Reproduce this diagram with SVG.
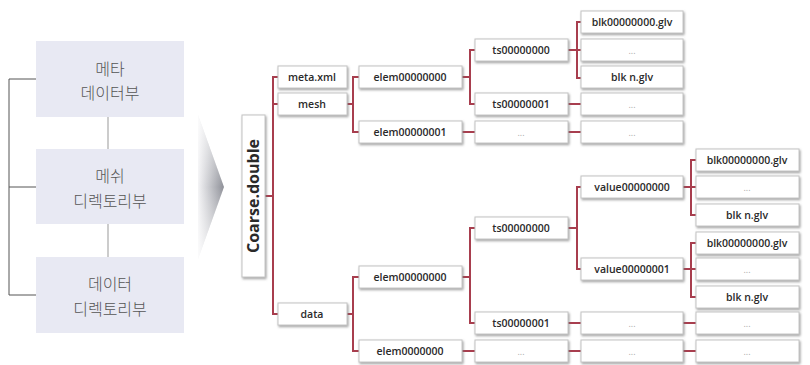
<svg xmlns="http://www.w3.org/2000/svg" width="810" height="365" viewBox="0 0 810 365">
<defs>
<linearGradient id="chev" x1="0" y1="0" x2="1" y2="0">
<stop offset="0" stop-color="#f4f4f6"/>
<stop offset="1" stop-color="#8e9098"/>
</linearGradient>
<linearGradient id="chevv" x1="0" y1="0" x2="0" y2="1">
<stop offset="0" stop-color="#ffffff" stop-opacity="0.7"/>
<stop offset="0.5" stop-color="#ffffff" stop-opacity="0"/>
<stop offset="1" stop-color="#ffffff" stop-opacity="0.7"/>
</linearGradient>
<filter id="sh" x="-10%" y="-20%" width="130%" height="160%">
<feDropShadow dx="1" dy="1.5" stdDeviation="0.8" flood-color="#777" flood-opacity="0.7"/>
</filter>
</defs>
<style>
.sec rect{fill:#e8e9f3}
.kt{font-family:"Noto Sans CJK KR","Noto Sans",sans-serif;font-size:16px;fill:#555;text-anchor:middle;font-weight:300}
.lk{stroke:#555;stroke-width:1;fill:none}
.lv{stroke:#999;stroke-width:1;fill:none}
.n rect{fill:#fff;stroke:#c4c4c4;stroke-width:1;filter:url(#sh)}
.n text{font-family:"Open Sans","DejaVu Sans",sans-serif;font-size:10.5px;font-weight:600;fill:#2a2a2a;text-anchor:middle}
.n text.d{fill:#aaa;font-weight:400;font-size:9px}
.c path{stroke:#a83e4e;stroke-width:2;fill:none}
.root text{font-family:"Open Sans","DejaVu Sans",sans-serif;font-size:16px;font-weight:700;fill:#2a2a2a;text-anchor:middle}
</style>
<rect width="810" height="365" fill="#fff"/>

<!-- left legend -->
<g id="legend-lines">
<path class="lk" d="M36 79H9V295H36M9 187H36"/>
<path class="lv" d="M108 117V149M108 224V257"/>
</g>
<g id="sec-meta" class="sec"><rect x="36" y="41" width="148" height="76"/>
<text class="kt" x="110" y="75">메타</text><text class="kt" x="110" y="99">데이터부</text></g>
<g id="sec-mesh" class="sec"><rect x="36" y="149" width="148" height="75"/>
<text class="kt" x="110" y="182">메쉬</text><text class="kt" x="110" y="207">디렉토리부</text></g>
<g id="sec-data" class="sec"><rect x="36" y="257" width="148" height="76"/>
<text class="kt" x="110" y="290">데이터</text><text class="kt" x="110" y="315">디렉토리부</text></g>

<g id="chevron">
<polygon points="198,115 224,187 198,259" fill="url(#chev)"/>
<polygon points="198,115 224,187 198,259" fill="url(#chevv)"/>
</g>

<!-- connectors -->
<g id="connectors" class="c">
<path d="M265 196H273M278 77H273V314H278M273 104H278"/>
<path d="M347 104H353M359 77H353V132H359"/>
<path d="M462 77H470M475 50H470V104H475"/>
<path d="M462 132H475"/>
<path d="M568 50H577M581 22H577V78H581M577 50H581"/>
<path d="M568 104H581M568 132H581"/>
<path d="M347 314H353M359 277H353V351H359"/>
<path d="M462 277H470M475 228H470V323H475"/>
<path d="M462 351H475M568 351H581M683 351H696"/>
<path d="M568 228H577M581 187H577V269H581"/>
<path d="M568 323H581M683 323H696"/>
<path d="M683 187H691M696 160H691V215H696M691 187H696"/>
<path d="M683 269H691M696 243H691V297H696M691 269H696"/>
</g>

<g id="root" class="n root"><rect x="242" y="115" width="23" height="162"/>
<text transform="translate(259 196) rotate(-90)">Coarse.double</text></g>

<g id="meta-xml" class="n"><rect x="278" y="66" width="69" height="22"/><text x="312" y="81">meta.xml</text></g>
<g id="mesh" class="n"><rect x="278" y="93" width="69" height="22"/><text x="312" y="108">mesh</text></g>
<g id="data" class="n"><rect x="278" y="303" width="69" height="22"/><text x="312" y="318">data</text></g>

<g id="m-elem0" class="n"><rect x="359" y="66" width="103" height="22"/><text x="410" y="81">elem00000000</text></g>
<g id="m-elem1" class="n"><rect x="359" y="121" width="103" height="22"/><text x="410" y="136">elem00000001</text></g>
<g id="d-elem0" class="n"><rect x="359" y="266" width="103" height="22"/><text x="410" y="281">elem00000000</text></g>
<g id="d-elem1" class="n"><rect x="359" y="340" width="103" height="22"/><text x="410" y="355">elem0000000</text></g>

<g id="m-ts0" class="n"><rect x="475" y="39" width="93" height="22"/><text x="521" y="54">ts00000000</text></g>
<g id="m-ts1" class="n"><rect x="475" y="93" width="93" height="22"/><text x="521" y="108">ts00000001</text></g>
<g id="m-dots1" class="n"><rect x="475" y="121" width="93" height="22"/><text class="d" x="521" y="136">...</text></g>
<g id="d-ts0" class="n"><rect x="475" y="217" width="93" height="22"/><text x="521" y="232">ts00000000</text></g>
<g id="d-ts1" class="n"><rect x="475" y="312" width="93" height="22"/><text x="521" y="327">ts00000001</text></g>
<g id="d-dots1" class="n"><rect x="475" y="340" width="93" height="22"/><text class="d" x="521" y="355">...</text></g>

<g id="m-blk0" class="n"><rect x="581" y="11" width="102" height="22"/><text x="632" y="26">blk00000000.glv</text></g>
<g id="m-blk1" class="n"><rect x="581" y="39" width="102" height="22"/><text class="d" x="632" y="54">...</text></g>
<g id="m-blkn" class="n"><rect x="581" y="66" width="102" height="22"/><text x="632" y="81">blk n.glv</text></g>
<g id="m-dots2" class="n"><rect x="581" y="93" width="102" height="22"/><text class="d" x="632" y="108">...</text></g>
<g id="m-dots3" class="n"><rect x="581" y="121" width="102" height="22"/><text class="d" x="632" y="136">...</text></g>

<g id="d-val0" class="n"><rect x="581" y="176" width="102" height="22"/><text x="632" y="191">value00000000</text></g>
<g id="d-val1" class="n"><rect x="581" y="258" width="102" height="22"/><text x="632" y="273">value00000001</text></g>
<g id="d-dots2" class="n"><rect x="581" y="312" width="102" height="22"/><text class="d" x="632" y="327">...</text></g>
<g id="d-dots3" class="n"><rect x="581" y="340" width="102" height="22"/><text class="d" x="632" y="355">...</text></g>

<g id="d-blk0a" class="n"><rect x="696" y="149" width="103" height="22"/><text x="747" y="164">blk00000000.glv</text></g>
<g id="d-blk1a" class="n"><rect x="696" y="176" width="103" height="22"/><text class="d" x="747" y="191">...</text></g>
<g id="d-blkna" class="n"><rect x="696" y="204" width="103" height="22"/><text x="747" y="219">blk n.glv</text></g>
<g id="d-blk0b" class="n"><rect x="696" y="232" width="103" height="22"/><text x="747" y="247">blk00000000.glv</text></g>
<g id="d-blk1b" class="n"><rect x="696" y="258" width="103" height="22"/><text class="d" x="747" y="273">...</text></g>
<g id="d-blknb" class="n"><rect x="696" y="286" width="103" height="22"/><text x="747" y="301">blk n.glv</text></g>
<g id="d-dots4" class="n"><rect x="696" y="312" width="103" height="22"/><text class="d" x="747" y="327">...</text></g>
<g id="d-dots5" class="n"><rect x="696" y="340" width="103" height="22"/><text class="d" x="747" y="355">...</text></g>
</svg>
